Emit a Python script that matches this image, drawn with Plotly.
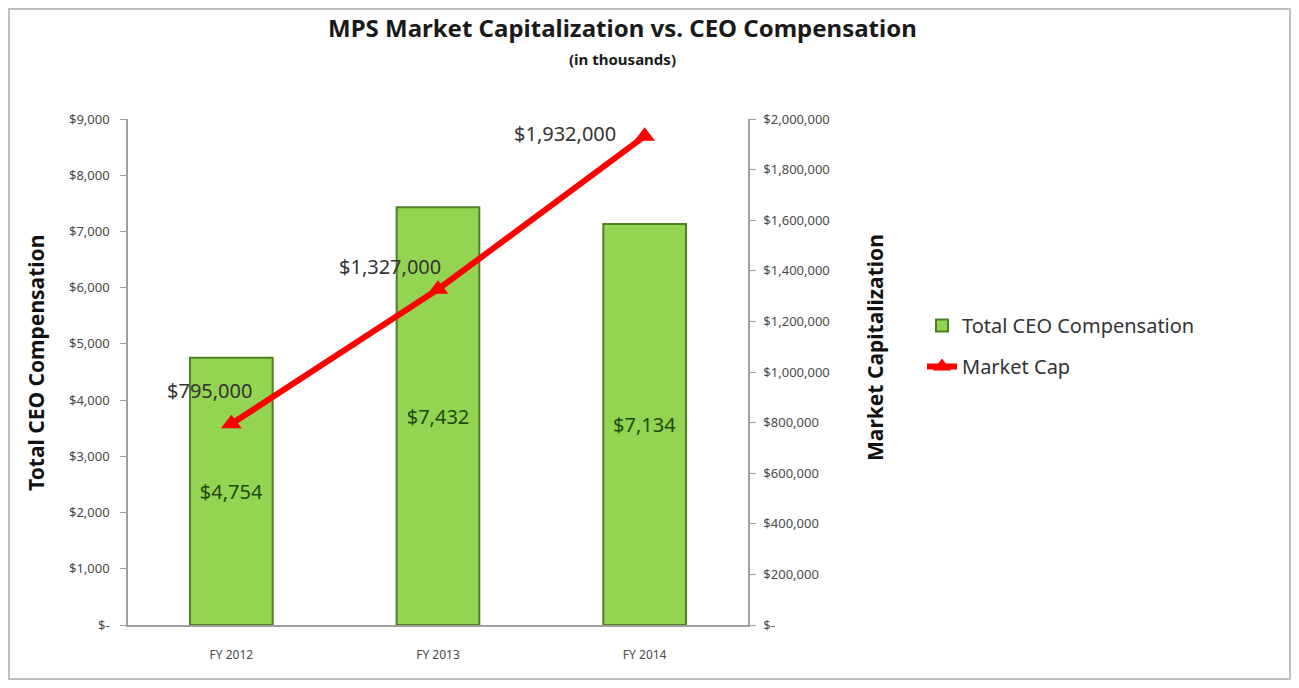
import plotly.graph_objects as go

categories = ["FY 2012", "FY 2013", "FY 2014"]
ceo_comp = [4754, 7432, 7134]
market_cap = [795000, 1327000, 1932000]
ceo_labels = ["$4,754", "$7,432", "$7,134"]
cap_labels = ["$795,000", "$1,327,000", "$1,932,000"]
left_ticks = [0, 1000, 2000, 3000, 4000, 5000, 6000, 7000, 8000, 9000]
left_tick_text = ["$-", "$1,000", "$2,000", "$3,000", "$4,000", "$5,000",
                  "$6,000", "$7,000", "$8,000", "$9,000"]
right_ticks = [0, 200000, 400000, 600000, 800000, 1000000, 1200000,
               1400000, 1600000, 1800000, 2000000]
right_tick_text = ["$-", "$200,000", "$400,000", "$600,000", "$800,000",
                   "$1,000,000", "$1,200,000", "$1,400,000", "$1,600,000",
                   "$1,800,000", "$2,000,000"]

OFF = 8  # page body margin
W, H = 1283, 672
L, R, T, B = 128 - OFF, 748 - OFF, 119 - OFF, 625 - OFF

def px(x_ref):
    return (x_ref - OFF - L) / (R - L)

def py(y_ref):
    return (B - (y_ref - OFF)) / (B - T)

FONT = "Noto Sans"
TICK_COLOR = "#4a4a4a"

fig = go.Figure()
fig.add_trace(go.Bar(
    x=categories, y=ceo_comp, name="Total CEO Compensation",
    legendgroup="a",
    marker=dict(color="#93D452", line=dict(color="#4F7F23", width=2)),
    width=0.4,
    text=ceo_labels, textposition="inside", insidetextanchor="middle",
    textfont=dict(size=20, color="#1F4A10", family=FONT),
    textangle=0,
))
fig.add_trace(go.Scatter(
    x=categories, y=market_cap, name="Market Cap", yaxis="y2",
    legendgroup="b",
    mode="lines+markers",
    line=dict(color="#FF0000", width=6),
    marker=dict(symbol="triangle-up", size=18, color="#FF0000"),
))

shifts = [(-22, 33), (-48, 23), (-80, 3)]
annotations = []
for c, v, t, (dx, dy) in zip(categories, market_cap, cap_labels, shifts):
    annotations.append(dict(x=c, y=v, xref="x", yref="y2", text=t,
                            showarrow=False, xshift=dx, yshift=dy,
                            xanchor="center", yanchor="middle",
                            font=dict(size=20, color="#333333", family=FONT)))

annotations += [
    dict(x=px(622), y=py(28), xref="paper", yref="paper",
         xanchor="center", yanchor="middle",
         text="<b>MPS Market Capitalization vs. CEO Compensation</b>",
         showarrow=False, font=dict(size=24, color="#1a1a1a", family=FONT)),
    dict(x=px(622), y=py(59), xref="paper", yref="paper",
         xanchor="center", yanchor="middle",
         text="<b>(in thousands)</b>",
         showarrow=False, font=dict(size=15, color="#1a1a1a", family=FONT)),
    dict(x=px(36), y=py(363), xref="paper", yref="paper",
         xanchor="center", yanchor="middle",
         text="<b>Total CEO Compensation</b>", textangle=-90,
         showarrow=False, font=dict(size=21, color="#111111", family=FONT)),
    dict(x=px(875), y=py(348), xref="paper", yref="paper",
         xanchor="center", yanchor="middle",
         text="<b>Market Capitalization</b>", textangle=-90,
         showarrow=False, font=dict(size=21, color="#111111", family=FONT)),
]

fig.update_layout(
    width=W, height=H,
    margin=dict(l=L, r=W - R, t=T, b=H - B, autoexpand=False),
    paper_bgcolor="white", plot_bgcolor="white",
    showlegend=True,
    legend=dict(x=px(922), y=py(306), xanchor="left", yanchor="top",
                font=dict(size=20, color="#333333", family=FONT),
                tracegroupgap=12, itemwidth=30, bgcolor="rgba(0,0,0,0)"),
    xaxis=dict(showline=True, linecolor="#A0A0A0", linewidth=1.5,
               ticks="", ticklabelstandoff=18,
               tickfont=dict(size=12, color=TICK_COLOR, family=FONT),
               showgrid=False, zeroline=False),
    yaxis=dict(range=[0, 9000], tickvals=left_ticks, ticktext=left_tick_text,
               showline=True, linecolor="#A0A0A0", linewidth=1.5,
               ticks="outside", ticklen=6, tickcolor="#A0A0A0",
               ticklabelstandoff=8,
               tickfont=dict(size=13, color=TICK_COLOR, family=FONT),
               showgrid=False, zeroline=False),
    yaxis2=dict(range=[0, 2000000], tickvals=right_ticks, ticktext=right_tick_text,
                overlaying="y", side="right",
                showline=True, linecolor="#A0A0A0", linewidth=1.5,
                ticks="outside", ticklen=6, tickcolor="#A0A0A0",
                ticklabelstandoff=5,
                tickfont=dict(size=13, color=TICK_COLOR, family=FONT),
                showgrid=False, zeroline=False),
    annotations=annotations,
    shapes=[dict(type="rect", xref="paper", yref="paper",
                 x0=px(9), x1=px(1290), y0=py(679), y1=py(9),
                 line=dict(color="#BFBFBF", width=2), fillcolor="rgba(0,0,0,0)",
                 layer="below")],
)

fig.write_html("out.html")
